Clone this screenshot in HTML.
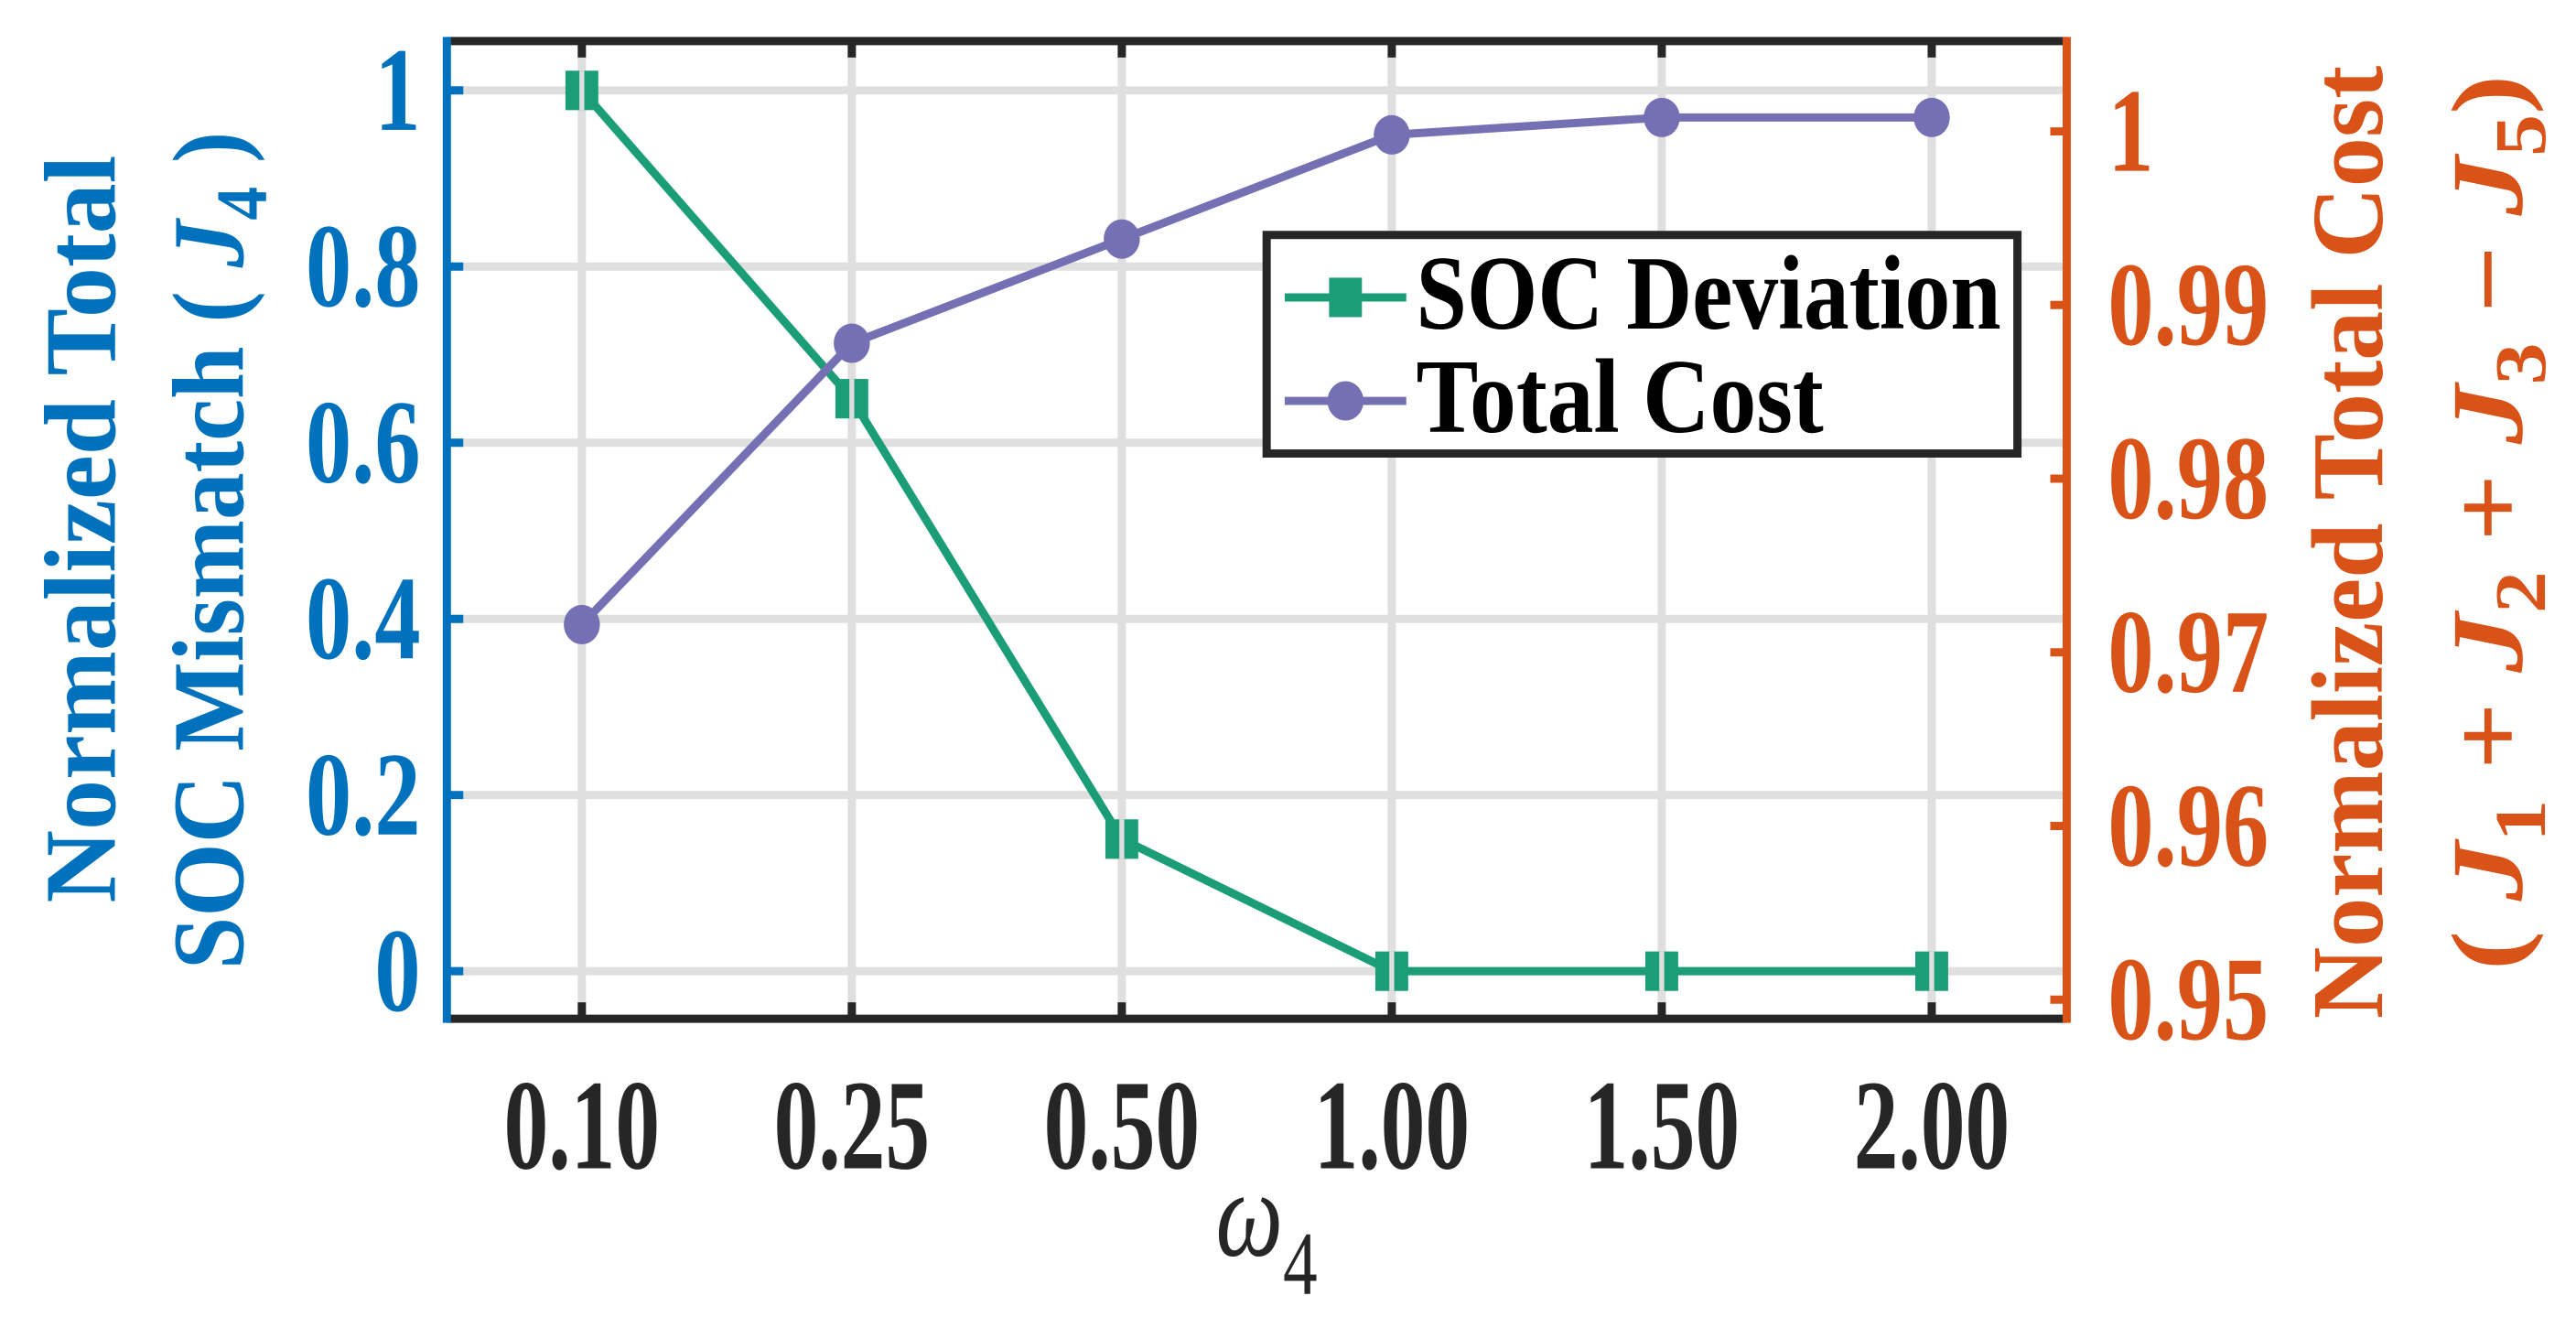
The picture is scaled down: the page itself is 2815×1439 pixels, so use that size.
<!DOCTYPE html>
<html><head><meta charset="utf-8"><style>
html,body{margin:0;padding:0;background:#fff;}
svg{display:block;font-family:"Liberation Serif",serif;font-weight:bold;}
</style></head><body>
<svg id="chart" width="2815" height="1439" viewBox="0 0 1568 801.5" preserveAspectRatio="none" xmlns="http://www.w3.org/2000/svg"></svg>
<script>
const categories = ["0.10","0.25","0.50","1.00","1.50","2.00"];
const socValues = [1, 0.65, 0.15, 0, 0, 0];
const costValues = [0.9716, 0.9878, 0.9938, 0.9998, 1.0008, 1.0008];
const leftTicks = [0, 0.2, 0.4, 0.6, 0.8, 1];
const leftTickLabels = ["0","0.2","0.4","0.6","0.8","1"];
const rightTicks = [0.95, 0.96, 0.97, 0.98, 0.99, 1];
const rightTickLabels = ["0.95","0.96","0.97","0.98","0.99","1"];

const NS = "http://www.w3.org/2000/svg";
const svg = document.getElementById('chart');
const L = 272, R = 1258, T = 25, B = 620;
const xMin = 0.5, xMax = 6.5;
const lMin = -0.054, lMax = 1.056;
const rMin = 0.9489, rMax = 1.0052;
function xs(i){ return L + (i + 1 - xMin) / (xMax - xMin) * (R - L); }
function yl(v){ return B - (v - lMin) / (lMax - lMin) * (B - T); }
function yr(v){ return B - (v - rMin) / (rMax - rMin) * (B - T); }
function mk(tag, attrs, parent){
  const e = document.createElementNS(NS, tag);
  for (const k in attrs) e.setAttribute(k, attrs[k]);
  (parent || svg).appendChild(e);
  return e;
}
const BLUE = "#0072bd", ORANGE = "#d95319", DARK = "#262626", GRID = "#dfdfdf";
const GREEN = "#1b9e77", PURPLE = "#7570b3";

// grid
const grid = mk('g', {});


categories.forEach((c, i) => {
  const g = mk('line', {x1: xs(i), x2: xs(i), y1: T, y2: B, stroke: GRID, 'stroke-width': 5}, grid);
  
  
});
leftTicks.forEach(v => {
  const g = mk('line', {x1: L, x2: R, y1: yl(v), y2: yl(v), stroke: GRID, 'stroke-width': 5}, grid);
  
  
});

// series: SOC deviation
const socLine = mk('polyline', {points: socValues.map((v, i) => xs(i) + ',' + yl(v)).join(' '), fill: 'none', stroke: GREEN, 'stroke-width': 5});


socValues.forEach((v, i) => {
  const m = mk('rect', {x: xs(i) - 10, y: yl(v) - 12, width: 20, height: 24, fill: GREEN});
  
  
  mk('line', {x1: xs(i), x2: xs(i), y1: yl(v) - 12, y2: yl(v) + 12, stroke: GRID, 'stroke-width': 3});
});
// series: total cost
const costLine = mk('polyline', {points: costValues.map((v, i) => xs(i) + ',' + yr(v)).join(' '), fill: 'none', stroke: PURPLE, 'stroke-width': 5});


costValues.forEach((v, i) => {
  const m = mk('ellipse', {cx: xs(i), cy: yr(v), rx: 11, ry: 12, fill: PURPLE});
  
  
});

// axes
const ax = mk('g', {});


mk('line', {x1: L, x2: R, y1: T, y2: T, stroke: DARK, 'stroke-width': 5}, ax);
mk('line', {x1: L, x2: R, y1: B, y2: B, stroke: DARK, 'stroke-width': 5}, ax);
mk('line', {x1: L, x2: L, y1: T - 2.5, y2: B + 2.5, stroke: BLUE, 'stroke-width': 5}, ax);
mk('line', {x1: R, x2: R, y1: T - 2.5, y2: B + 2.5, stroke: ORANGE, 'stroke-width': 5}, ax);
categories.forEach((c, i) => {
  mk('line', {x1: xs(i), x2: xs(i), y1: B, y2: B - 10, stroke: DARK, 'stroke-width': 5}, ax);
  mk('line', {x1: xs(i), x2: xs(i), y1: T, y2: T + 10, stroke: DARK, 'stroke-width': 5}, ax);
  const t = mk('text', {transform: 'translate(' + xs(i) + ',711) scale(1,1.45)', 'text-anchor': 'middle', 'font-size': 54, fill: DARK, textLength: 95, lengthAdjust: 'spacingAndGlyphs'}, ax);
  t.textContent = c;
  
  
});
leftTicks.forEach((v, i) => {
  mk('line', {x1: L, x2: L + 10, y1: yl(v), y2: yl(v), stroke: BLUE, 'stroke-width': 5}, ax);
  const t = mk('text', {transform: 'translate(256,' + (yl(v) + 24) + ') scale(1,1.3)', 'text-anchor': 'end', 'font-size': 56, fill: BLUE}, ax);
  t.textContent = leftTickLabels[i];
  
  
});
rightTicks.forEach((v, i) => {
  mk('line', {x1: R, x2: R - 10, y1: yr(v), y2: yr(v), stroke: ORANGE, 'stroke-width': 5}, ax);
  const t = mk('text', {transform: 'translate(1283,' + (yr(v) + 24) + ') scale(1,1.3)', 'text-anchor': 'start', 'font-size': 56, fill: ORANGE}, ax);
  t.textContent = rightTickLabels[i];
  
  
});
</script>
<svg style="position:absolute;left:0;top:0" width="2815" height="1439" viewBox="0 0 1568 801.5" preserveAspectRatio="none" xmlns="http://www.w3.org/2000/svg" font-family="Liberation Serif, serif" font-weight="bold">
  <g>
    <rect x="771" y="143" width="457" height="133" fill="#fff" stroke="#262626" stroke-width="5"/>
    <line x1="782" x2="856" y1="181" y2="181" stroke="#1b9e77" stroke-width="5"/>
    <rect x="809" y="169" width="20" height="24" fill="#1b9e77"/>
    <text transform="translate(862,200) scale(1,1.15)" font-size="56" fill="#000" textLength="356" lengthAdjust="spacingAndGlyphs">SOC Deviation</text>
    <line x1="782" x2="856" y1="244" y2="244" stroke="#7570b3" stroke-width="5"/>
    <ellipse cx="819" cy="244" rx="11" ry="12" fill="#7570b3"/>
    <text transform="translate(862,263) scale(1,1.15)" font-size="56" fill="#000" textLength="248" lengthAdjust="spacingAndGlyphs">Total Cost</text>
  </g>
  <text transform="translate(740,764) scale(1,1.3)" font-size="58" font-weight="normal" font-style="italic" fill="#262626">ω<tspan font-style="normal" dy="18" font-size="42">4</tspan></text>
  <g fill="#0072bd" font-size="62">
    <text transform="translate(70,322) rotate(-90)" text-anchor="middle" textLength="455" lengthAdjust="spacingAndGlyphs">Normalized Total</text>
    <text transform="translate(148,335) rotate(-90)" text-anchor="middle" textLength="510" lengthAdjust="spacingAndGlyphs">SOC Mismatch ( <tspan font-style="italic">J</tspan><tspan dy="14" font-size="44">4</tspan><tspan dy="-14"> )</tspan></text>
  </g>
  <g fill="#d95319" font-size="62">
    <text transform="translate(1450,330) rotate(-90)" text-anchor="middle" textLength="580" lengthAdjust="spacingAndGlyphs">Normalized Total Cost</text>
    <text transform="translate(1535,318) rotate(-90)" text-anchor="middle" textLength="545" lengthAdjust="spacingAndGlyphs">( <tspan font-style="italic">J</tspan><tspan dy="14" font-size="44">1</tspan><tspan dy="-14"> + </tspan><tspan font-style="italic">J</tspan><tspan dy="14" font-size="44">2</tspan><tspan dy="-14"> + </tspan><tspan font-style="italic">J</tspan><tspan dy="14" font-size="44">3</tspan><tspan dy="-14"> − </tspan><tspan font-style="italic">J</tspan><tspan dy="14" font-size="44">5</tspan><tspan dy="-14">)</tspan></text>
  </g>
</svg>
</body></html>
